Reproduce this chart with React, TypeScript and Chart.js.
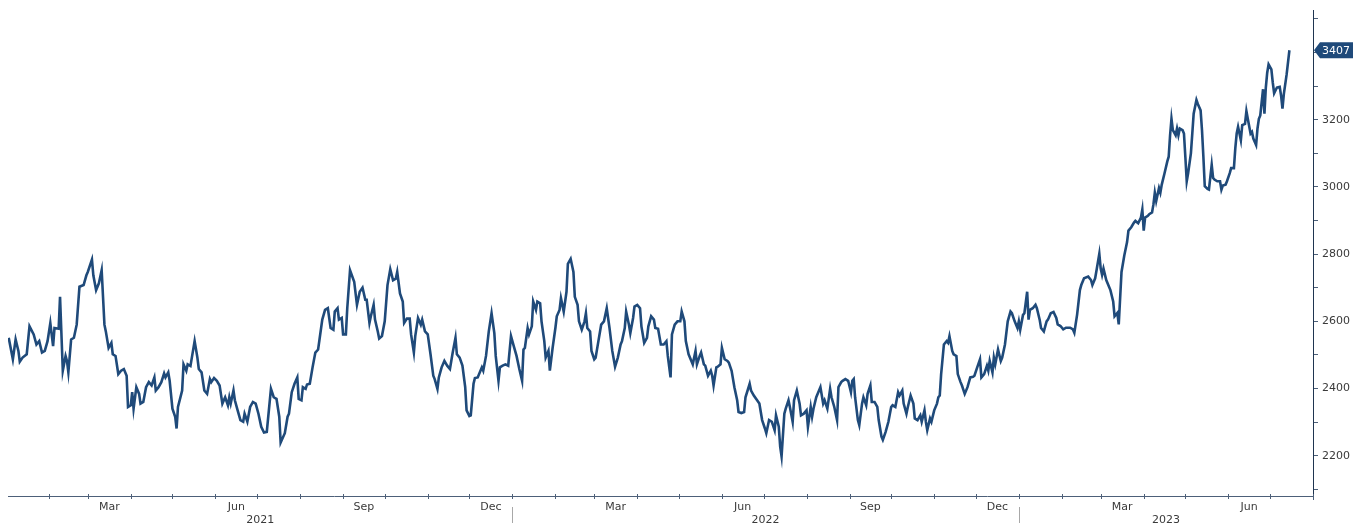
import { useEffect, useRef } from "react";
import { Chart, registerables } from "chart.js";

Chart.register(...registerables);

// x values: days since 1 Jan 2021
const days = [
  2, 5, 7, 9, 10, 12, 15, 17, 20, 22,
  24, 26, 28, 30, 32, 34, 35, 38, 39, 41,
  43, 44, 45, 47, 49, 51, 53, 56, 58, 59,
  62, 63, 65, 67, 69, 71, 72, 74, 76, 77,
  79, 81, 83, 85, 87, 88, 90, 91, 92, 94,
  96, 97, 99, 101, 103, 105, 107, 108, 110, 112,
  114, 115, 117, 118, 120, 122, 123, 124, 127, 128,
  130, 131, 133, 134, 136, 138, 139, 141, 143, 145,
  147, 148, 150, 152, 154, 156, 158, 160, 161, 162,
  164, 165, 167, 169, 171, 172, 174, 176, 178, 180,
  182, 184, 186, 188,
  191, 193, 195, 197, 198, 201, 203, 204, 206, 208,
  210, 211, 213, 214, 216, 217, 219, 221, 223, 225,
  226, 228, 230, 232, 234, 236, 237, 239, 240, 242,
  243, 245, 246, 248, 251, 253, 255, 257, 259, 260,
  262, 263, 265, 266, 268, 269, 271, 273, 275, 277,
  279, 281, 282, 284, 286, 287, 289, 291, 292, 294,
  295, 297, 299, 300, 302, 304, 306, 308, 309, 311,
  312, 314, 316, 318, 320, 322, 324, 325, 327, 329,
  331, 332, 334, 335, 337, 338, 340, 342, 343, 344,
  346, 348, 350, 352, 353, 355, 356, 358, 360, 362,
  364, 366, 368, 370, 372,
  373, 374, 376, 377, 379, 380, 382, 383, 385, 386,
  388, 389, 391, 392, 394, 396, 397, 399, 400, 402,
  404, 405, 407, 409, 410, 412, 413, 415, 417, 418,
  419, 421, 422, 424, 425, 427, 429, 431, 433, 435,
  437, 439, 441, 443, 444, 446, 447, 449, 450, 452,
  453, 455, 457, 458, 460, 462, 463, 465, 467, 468,
  470, 472, 474, 476, 477, 479, 480, 482, 484, 486,
  487, 489, 490, 492, 494, 495, 497, 498, 500, 501,
  503, 504, 506, 508, 509, 510, 512, 513, 515, 516,
  518, 520, 521, 523, 525, 527, 528, 530, 532, 533,
  536, 537, 539, 541, 543, 545, 547, 548, 550, 552,
  554, 555, 557, 558, 559,
  561, 562, 564, 565, 567, 568, 570, 572, 573, 575,
  577, 578, 580, 581, 582, 584, 586, 587, 589, 590,
  592, 594, 595, 597, 599, 600, 602, 603, 605, 607,
  609, 610, 611, 612, 614, 615, 617, 618, 620, 621,
  623, 624, 626, 628, 629, 631, 632, 634, 636, 638,
  639, 641, 643, 644, 646, 647, 649, 650, 652, 654,
  655, 657, 659, 660, 662, 663, 664, 666, 667, 669,
  671, 672, 673, 674, 676, 678, 679, 680, 682, 683,
  685, 686, 688, 689, 691, 693, 695, 697, 698, 700,
  702, 703, 705, 707, 708, 709, 711, 712, 713, 715,
  717, 718, 720, 722, 724, 725, 727, 729, 730, 731,
  733, 734, 736, 737, 738, 740, 742, 743, 745, 746,
  748, 750, 751, 753,
  755, 757, 758, 760, 762, 764, 767, 769, 770, 772,
  774, 775, 777, 780, 782, 783, 785, 786, 788, 789,
  790, 791, 793, 795, 796, 798, 799, 801, 802, 803,
  804, 806, 808, 809, 811, 813, 814, 816, 818, 819,
  820, 821, 823, 824, 826, 827, 828, 829, 831, 832,
  833, 835, 837, 838, 839, 840, 841, 843, 844, 845,
  846, 848, 849, 850, 851, 852, 854, 855, 856, 858,
  859, 861, 862, 863, 864, 866, 867, 869, 870, 871,
  873, 875, 876, 877, 879, 880, 882, 883, 885, 886,
  887, 888, 890, 891, 893, 894, 895, 897, 898, 899,
  901, 902, 903, 904, 906, 907, 908, 909, 910, 912,
  913, 914, 916, 918, 919, 920, 921, 923, 925,
];

const prices = [
  2551, 2487, 2546, 2512, 2480, 2492, 2502, 2585, 2561, 2531,
  2541, 2507, 2512, 2541, 2595, 2526, 2580, 2578, 2673, 2453,
  2497, 2482, 2448, 2546, 2551, 2590, 2703, 2708, 2737, 2747,
  2784, 2737, 2693, 2713, 2752, 2590, 2570, 2521, 2536, 2502,
  2497, 2443, 2453, 2458, 2438, 2345, 2350, 2389, 2340, 2404,
  2384, 2355, 2360, 2404, 2419, 2409, 2433, 2394, 2404, 2419,
  2445, 2433, 2448, 2423, 2340, 2316, 2281, 2345, 2394, 2472,
  2453, 2472, 2467, 2492, 2541, 2492, 2458, 2448, 2394, 2384,
  2428, 2419, 2431, 2423, 2409, 2355, 2374, 2350, 2374, 2355,
  2394, 2365, 2335, 2306, 2301, 2325, 2301, 2345, 2360, 2355,
  2325, 2286, 2269, 2271,
  2399, 2374, 2369, 2316, 2239, 2267, 2316, 2325, 2389, 2414,
  2433, 2369, 2365, 2404, 2399, 2412, 2414, 2463, 2507, 2516,
  2546, 2605, 2634, 2639, 2580, 2575, 2629, 2639, 2605, 2610,
  2561, 2561, 2639, 2752, 2718, 2649, 2688, 2700, 2664, 2664,
  2595, 2615, 2649, 2605, 2570, 2549, 2556, 2600, 2708, 2755,
  2722, 2727, 2747, 2683, 2659, 2595, 2608, 2608, 2561, 2507,
  2556, 2610, 2590, 2605, 2570, 2561, 2502, 2438, 2428, 2399,
  2433, 2463, 2482, 2468, 2458, 2507, 2551, 2502, 2492, 2468,
  2404, 2335, 2318, 2320, 2414, 2431, 2433, 2453, 2463, 2453,
  2497, 2570, 2624, 2565, 2497, 2423, 2463, 2468, 2472, 2468,
  2556, 2526, 2497, 2458, 2423,
  2516, 2521, 2580, 2561, 2585, 2659, 2634, 2659, 2654, 2600,
  2541, 2492, 2512, 2453, 2521, 2580, 2615, 2634, 2669, 2629,
  2688, 2771, 2786, 2747, 2673, 2649, 2600, 2575, 2600, 2624,
  2580, 2570, 2512, 2487, 2492, 2541, 2590, 2600, 2639, 2580,
  2512, 2465, 2492, 2531, 2541, 2580, 2629, 2590, 2565, 2610,
  2644, 2649, 2639, 2585, 2536, 2551, 2585, 2615, 2605, 2580,
  2578, 2531, 2531, 2541, 2497, 2433, 2561, 2590, 2600, 2600,
  2629, 2600, 2541, 2502, 2482, 2472, 2512, 2472, 2497, 2507,
  2472, 2468, 2438, 2453, 2438, 2409, 2463, 2465, 2472, 2521,
  2487, 2482, 2477, 2453, 2404, 2365, 2330, 2327, 2330, 2374,
  2414, 2394, 2379, 2367, 2355, 2306, 2281, 2267, 2306, 2301,
  2276, 2320, 2286, 2227, 2198,
  2325, 2340, 2365, 2345, 2301, 2365, 2394, 2355, 2320, 2325,
  2335, 2286, 2345, 2316, 2340, 2374, 2394, 2404, 2355, 2365,
  2340, 2399, 2374, 2345, 2306, 2404, 2419, 2423, 2428, 2423,
  2389, 2423, 2428, 2374, 2306, 2291, 2355, 2374, 2350, 2384,
  2409, 2360, 2360, 2345, 2306, 2257, 2247, 2271, 2301, 2345,
  2350, 2345, 2389, 2379, 2394, 2355, 2325, 2345, 2379, 2355,
  2311, 2306, 2320, 2301, 2335, 2301, 2276, 2311, 2301, 2335,
  2355, 2374, 2379, 2443, 2531, 2541, 2536, 2556, 2512, 2502,
  2497, 2443, 2419, 2409, 2384, 2404, 2433, 2435, 2438, 2463,
  2487, 2433, 2443, 2468, 2453, 2482, 2448, 2492, 2472, 2516,
  2482, 2492, 2531, 2600, 2629, 2624, 2600, 2580, 2600, 2575,
  2619, 2624, 2688, 2605, 2634, 2639, 2649, 2639, 2605, 2580,
  2570, 2600, 2605, 2624,
  2628, 2610, 2591, 2586, 2576, 2581, 2581, 2576, 2566, 2620,
  2693, 2708, 2728, 2733, 2723, 2708, 2728, 2752, 2801, 2757,
  2738, 2757, 2723, 2703, 2693, 2659, 2615, 2625, 2591, 2669,
  2747, 2796, 2836, 2870, 2880, 2894, 2899, 2892, 2909, 2933,
  2870, 2909, 2914, 2919, 2924, 2948, 2983, 2958, 2997, 2983,
  3007, 3041, 3076, 3090, 3154, 3203, 3169, 3154, 3174, 3154,
  3174, 3169, 3159, 3090, 3017, 3041, 3100, 3159, 3218, 3259,
  3247, 3228, 3169, 3090, 3002, 2994, 2992, 3066, 3027, 3022,
  3017, 3017, 2992, 3004, 3007, 3017, 3041, 3056, 3056, 3115,
  3159, 3179, 3139, 3184, 3188, 3226, 3203, 3159, 3164, 3144,
  3125, 3174, 3203, 3213, 3291, 3218, 3296, 3340, 3365, 3350,
  3311, 3279, 3296, 3298, 3272, 3233, 3277, 3335, 3407,
];

const years = [2021, 2022, 2023];
const monthNames = ["Jan", "Feb", "Mar", "Apr", "May", "Jun", "Jul", "Aug", "Sep", "Oct", "Nov", "Dec"];
const labelledMonths = [2, 5, 8, 11];
const lastValueLabel = "3407";

const X_MIN = 1.5;
const X_MAX = 942;
const Y_MIN = 2080;
const Y_MAX = 3525;

const LINE = "#1f4a7a";
const AXIS = "#4d6079";
const TEXT = "#3a3a3a";
const FONT = '"DejaVu Sans", sans-serif';

const dayOf = (y: number, m: number) => (Date.UTC(y, m, 1) - Date.UTC(2021, 0, 1)) / 86400000;

const decorPlugin = {
  id: "decor",
  afterDraw(chart: any) {
    const { ctx, chartArea } = chart;
    const xs = chart.scales.x;
    const ys = chart.scales.y;
    const bottom = chartArea.bottom;
    ctx.save();
    ctx.font = `11px ${FONT}`;
    ctx.fillStyle = TEXT;
    ctx.textAlign = "center";
    ctx.textBaseline = "middle";
    ctx.strokeStyle = AXIS;
    ctx.lineWidth = 1;
    // month ticks and labels
    for (const yr of years) {
      for (let m = 0; m < 12; m++) {
        const d = dayOf(yr, m);
        if (d < X_MIN || d > X_MAX) continue;
        const px = Math.round(xs.getPixelForValue(d)) + 0.5;
        ctx.beginPath();
        ctx.moveTo(px, bottom - 2);
        ctx.lineTo(px, bottom + 3);
        ctx.stroke();
        if (labelledMonths.includes(m)) {
          const mid = (d + dayOf(yr, m + 1)) / 2;
          ctx.fillText(monthNames[m], xs.getPixelForValue(mid), bottom + 11);
        }
      }
    }
    // year labels and separators
    for (const yr of years) {
      const s = Math.max(dayOf(yr, 0), X_MIN);
      const e = Math.min(dayOf(yr + 1, 0), X_MAX);
      ctx.fillText(String(yr), xs.getPixelForValue((s + e) / 2), bottom + 24);
      if (yr !== years[0]) {
        const px = Math.round(xs.getPixelForValue(dayOf(yr, 0))) + 0.5;
        ctx.strokeStyle = "#a8a8a8";
        ctx.beginPath();
        ctx.moveTo(px, bottom + 11);
        ctx.lineTo(px, bottom + 27);
        ctx.stroke();
      }
    }
    // y axis extension below the x axis
    ctx.strokeStyle = AXIS;
    const rx = Math.round(chartArea.right) + 0.5;
    ctx.beginPath();
    ctx.moveTo(rx, bottom);
    ctx.lineTo(rx, bottom + 4);
    ctx.stroke();
    // last value label
    const lastVal = prices[prices.length - 1];
    const yv = ys.getPixelForValue(lastVal);
    const tip = chartArea.right + 1;
    ctx.fillStyle = LINE;
    ctx.beginPath();
    ctx.moveTo(tip, yv);
    ctx.lineTo(tip + 6, yv - 8);
    ctx.lineTo(tip + 39, yv - 8);
    ctx.lineTo(tip + 39, yv + 8);
    ctx.lineTo(tip + 6, yv + 8);
    ctx.closePath();
    ctx.fill();
    ctx.fillStyle = "#ffffff";
    ctx.fillText(lastValueLabel, tip + 22, yv + 0.5);
    ctx.restore();
  },
};

export default function App() {
  const ref = useRef<HTMLCanvasElement>(null);
  useEffect(() => {
    if (!ref.current) return;
    const chart = new Chart(ref.current, {
      type: "line",
      data: {
        datasets: [
          {
            data: days.map((d, i) => ({ x: d, y: prices[i] })),
            borderColor: LINE,
            borderWidth: 2.6,
            pointRadius: 0,
            tension: 0,
            fill: false,
          },
        ],
      },
      options: {
        animation: false,
        responsive: false,
        events: [],
        layout: { padding: { left: 8, top: 5, right: 0, bottom: 0 } },
        plugins: { legend: { display: false }, tooltip: { enabled: false } },
        scales: {
          x: {
            type: "linear",
            min: X_MIN,
            max: X_MAX,
            ticks: { display: false },
            grid: { display: true, drawOnChartArea: false, drawTicks: false },
            border: { display: true, color: AXIS, width: 1 },
            afterFit: (s: any) => {
              s.height = 31;
            },
          },
          y: {
            type: "linear",
            position: "right",
            min: Y_MIN,
            max: Y_MAX,
            ticks: {
              stepSize: 100,
              includeBounds: false,
              autoSkip: false,
              padding: 4,
              color: TEXT,
              font: { size: 11, family: FONT },
              callback: (v: any) => (Number(v) % 200 === 0 ? String(v) : ""),
            },
            grid: {
              display: true,
              drawOnChartArea: false,
              drawTicks: true,
              tickLength: 5,
              tickColor: AXIS,
            },
            border: { display: true, color: "#1f3550", width: 1 },
            afterFit: (s: any) => {
              s.width = 49;
            },
          },
        },
      },
      plugins: [decorPlugin],
    } as any);
    return () => chart.destroy();
  }, []);
  return (
    <div style={{ position: "fixed", left: 0, top: 0, width: 1362, height: 527, background: "#fff" }}>
      <canvas ref={ref} width={1362} height={527} style={{ width: 1362, height: 527, display: "block" }} />
    </div>
  );
}
